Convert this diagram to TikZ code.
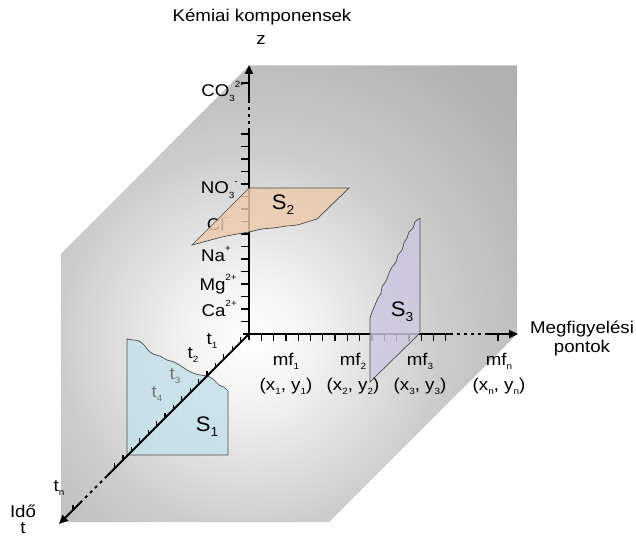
\documentclass[tikz,border=0pt]{standalone}
\usepackage{fontspec}
\setmainfont{Liberation Sans}
\usetikzlibrary{arrows.meta}
\definecolor{patchblue}{RGB}{195,224,233}
\definecolor{patchtan}{RGB}{236,203,172}
\definecolor{patchlilac}{RGB}{205,199,224}
\pgfdeclareradialshading{platefade}{\pgfpointorigin}{color(0bp)=(white); color(4bp)=(black!5); color(12bp)=(black!20); color(20bp)=(black!29); color(30bp)=(black!35); color(50bp)=(black!40)}
\newcommand\lo[1]{\raisebox{-0.45ex}{\fontsize{9}{9}\selectfont #1}}
\newcommand\hi[1]{\raisebox{1.05ex}{\fontsize{9}{9}\selectfont #1}}
\newcommand\lobig[1]{\raisebox{-0.45ex}{\fontsize{13}{13}\selectfont #1}}

\begin{document}
\begin{tikzpicture}[x=1pt,y=-1pt,
    lbl/.style={font=\fontsize{17}{20}\selectfont,xscale=1.1,inner sep=0pt},
    big/.style={font=\fontsize{21}{24}\selectfont,xscale=1.05,inner sep=0pt},
    axis/.style={line width=2.4pt},
    taxis/.style={line width=1.8pt},
    gap/.style={dash pattern=on 3pt off 4pt},
    tip/.style={-{Triangle[length=9pt,width=8pt]}},
    tickline/.style={line width=1.3pt},
    patch/.style={draw=black!70,line width=0.7pt,fill opacity=0.82}]
    \path[use as bounding box,fill=white] (0,0) rectangle (636,537);
    \begin{scope}
      \clip (249,65.5) -- (517,65.5) -- (517,334) -- (329,522) -- (61,522) -- (61,254) -- cycle;
      \shade[shading=platefade] (250,340) circle (400);
    \end{scope}

    \draw[patch,fill=patchblue] (127,455) -- (228,455) -- (228,391)
      -- plot[smooth,tension=0.6] coordinates {(224,387) (219,385) (213,379) (207,376) (200,375) (193,373)
        (187,370) (181,366) (174,362) (167,360) (160,356) (153,354) (148,350) (144,345) (139,341) (133,340) (127,339)}
      -- cycle;
    \node[lbl,text=black!55] (tthree) at (175,376) {t\lo{3}};
    \node[lbl,text=black!55] (tfour) at (157,394) {t\lo{4}};

    \coordinate (O) at (249,334);
    \coordinate (zfoot) at (249,340);
    \coordinate (xfoot) at (243,334);
    \coordinate (zA) at (249,131);
    \coordinate (zB) at (249,101);
    \coordinate (zTip) at (249,65);
    \coordinate (xA) at (450,334);
    \coordinate (xB) at (487,334);
    \coordinate (xTip) at (518,334);
    \coordinate (tA) at (107,476);
    \coordinate (tB) at (82,501);
    \coordinate (tTip) at (59,524);

    \draw[axis] (zfoot) -- (zA);
    \draw[axis,gap] (zA) -- (zB);
    \draw[axis,tip] (zB) -- (zTip);
    \draw[axis] (xfoot) -- (xA);
    \draw[axis,gap] (xA) -- (xB);
    \draw[axis,tip] (xB) -- (xTip);
    \draw[taxis] (O) -- (tA);
    \draw[taxis,gap] (tA) -- (tB);
    \draw[taxis,tip] (tB) -- (tTip);
    \foreach \k in {1,...,16}{
      \draw[tickline] (249,{334-12.5*\k}) -- ++(-8,0);
      \draw[tickline] ({249+12.3*\k},334) -- ++(0,7);
      \draw[tickline] ({249-8.4*\k},{334+8.4*\k}) -- ++(0,-5);
    }
    \draw[tickline] (249,83) -- ++(-8,0);
    \draw[tickline] (498,334) -- ++(0,7);
    \draw[tickline] (73,510) -- ++(0,-5);

    \foreach \y/\r/\t [count=\i] in {
        97/244/CO\lo{3}\hi{2-},
        194/238/NO\lo{3}\hi{-},
        230/228/Cl\hi{-},
        261/231/Na\hi{+},
        290/237/Mg\hi{2+},
        316/237/Ca\hi{2+}}{
      \node[lbl,anchor=base east] (ion\i) at (\r,\y) {\t};
    }

    \draw[patch,fill=patchtan] (249,188) -- (349,188) -- (317,219)
      -- plot[smooth,tension=0.6] coordinates {(307,222) (297,225) (287,226) (273,228) (262,229) (249,232)
        (237,234) (222,237) (207,241) (192,245)}
      -- cycle;
    \draw[patch,fill=patchlilac] (420,218) -- (420,333) -- (370,382) -- (370,318)
      -- plot[smooth,tension=0.5] coordinates {(372,312) (375,305) (377,300) (381,293) (382,287) (386,281)
        (389,273) (392,267) (396,262) (398,255) (402,250) (404,243) (407,238) (409,232) (413,228) (415,222) (420,218)};

    \node[big] (sone) at (207,427) {S\lobig{1}};
    \node[big] (stwo) at (283,205) {S\lobig{2}};
    \node[big] (sthree) at (402,312) {S\lobig{3}};

    \foreach \n/\x in {1/286,2/353,3/420,n/499}{
      \node[lbl] (mf\n) at (\x,361) {mf\lo{\n}};
      \node[lbl] (xy\n) at (\x,386) {(x\lo{\n}, y\lo{\n})};
    }
    \node[lbl] (tone) at (212,341) {t\lo{1}};
    \node[lbl] (ttwo) at (193,355) {t\lo{2}};
    \node[lbl] (tlast) at (59,488) {t\lo{n}};

    \node[lbl] (zname) at (262,17) {Kémiai komponensek};
    \node[lbl] (zsym) at (261,40) {z};
    \node[lbl] (xname) at (582,329) {Megfigyelési};
    \node[lbl] (xname2) at (582,348) {pontok};
    \node[lbl] (tname) at (23,511) {Idő};
    \node[lbl] (tsym) at (23,528) {t};
  \end{tikzpicture}
\end{document}
